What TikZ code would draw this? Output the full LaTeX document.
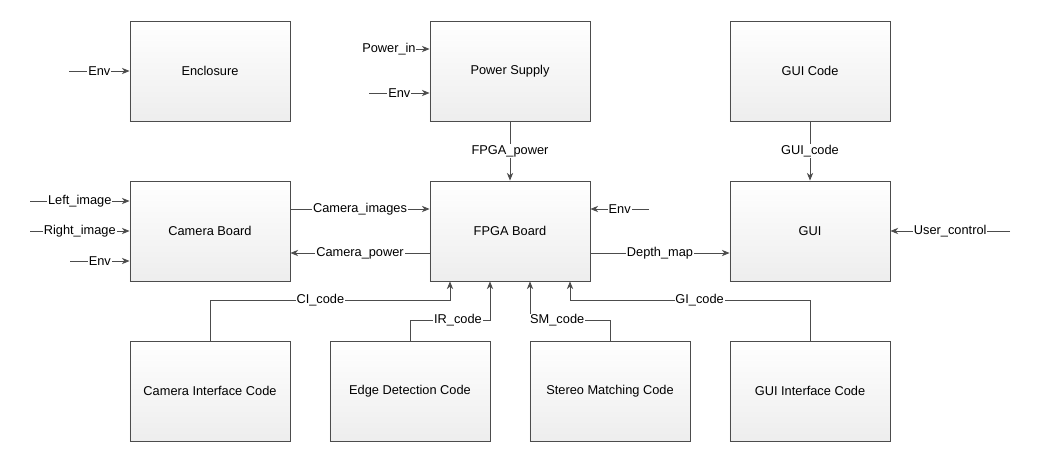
\documentclass[tikz,border=0pt]{standalone}
\usepackage{fontspec}
\setmainfont{Liberation Sans}
\usetikzlibrary{arrows.meta,shadows}

\begin{document}
\begin{tikzpicture}[x=0.025cm,y=-0.025cm,
	blk/.style={draw=black!70,line width=0.6pt,minimum width=4cm,minimum height=2.5cm,top color=white,bottom color=black!7,font=\fontsize{9.1}{11}\selectfont,drop shadow={shadow xshift=0.9pt,shadow yshift=-0.9pt,fill=black!30,opacity=0.5}},
	flow/.style={draw=black!70,line width=0.6pt,-{Stealth[length=5.5pt,width=4.5pt]}},
	lbl/.style={fill=white,inner sep=0.6pt,font=\fontsize{9.1}{11}\selectfont}]
			\useasboundingbox (0,0) rectangle (1038,464);
			\node[blk] (Encl)at(210,71) {Enclosure};
			\node[blk] (PS)at(510,71) {Power Supply};
			\node[blk] (GUIC)at(810,71) {GUI Code};
			\node[blk] (CB)at(210,231) {Camera Board};
			\node[blk] (FPGA)at(510,231) {FPGA Board};
			\node[blk] (GUI)at(810,231) {GUI};
			\node[blk] (CIC)at(210,391) {Camera Interface Code};
			\node[blk] (EDC)at(410,391) {Edge Detection Code};
			\node[blk] (SMC)at(610,391) {Stereo Matching Code};
			\node[blk] (GIC)at(810,391) {GUI Interface Code};
			% free ends of the outside inputs
			\coordinate (env1)at(69,71);
			\coordinate (pin)at(361,49);
			\coordinate (env2)at(369,93);
			\coordinate (limg)at(30,201);
			\coordinate (rimg)at(30,231);
			\coordinate (env3)at(70,261);
			\coordinate (env4)at(649,209);
			\coordinate (uctl)at(1010,231);
			\draw[flow] (env1) -- node[lbl]{Env} (Encl.west);
			\draw[flow] (pin) -- node[lbl,pos=0,anchor=west]{Power\_in} (pin -| PS.west);
			\draw[flow] (env2) -- node[lbl]{Env} (env2 -| PS.west);
			\draw[flow] (limg) -- node[lbl]{Left\_image} (limg -| CB.west);
			\draw[flow] (rimg) -- node[lbl]{Right\_image} (CB.west);
			\draw[flow] (env3) -- node[lbl]{Env} (env3 -| CB.west);
			\draw[flow] (env4) -- node[lbl]{Env} (env4 -| FPGA.east);
			\draw[flow] (uctl) -- node[lbl]{User\_control} (GUI.east);
			\draw[flow] (PS) -- node[lbl]{FPGA\_power} (FPGA);
			\draw[flow] (GUIC) -- node[lbl]{GUI\_code} (GUI);
			\draw[flow] ([yshift=0.55cm]CB.east) -- node[lbl]{Camera\_images} ([yshift=0.55cm]FPGA.west);
			\draw[flow] ([yshift=-0.55cm]FPGA.west) -- node[lbl]{Camera\_power} ([yshift=-0.55cm]CB.east);
			\draw[flow] ([yshift=-0.55cm]FPGA.east) -- node[lbl]{Depth\_map} ([yshift=-0.55cm]GUI.west);
			% code blocks into the FPGA
			\draw[flow] (CIC.north) -- ++(0,-40) -| node[lbl,pos=0.23]{CI\_code} ([xshift=-1.5cm]FPGA.south);
			\draw[flow] (EDC.north) -- ++(0,-20) -| node[lbl,pos=0.3]{IR\_code} ([xshift=-0.5cm]FPGA.south);
			\draw[flow] (SMC.north) -- ++(0,-20) -| node[lbl,pos=0.33]{SM\_code} ([xshift=0.5cm]FPGA.south);
			\draw[flow] (GIC.north) -- ++(0,-40) -| node[lbl,pos=0.23]{GI\_code} ([xshift=1.5cm]FPGA.south);
		\end{tikzpicture}
\end{document}
